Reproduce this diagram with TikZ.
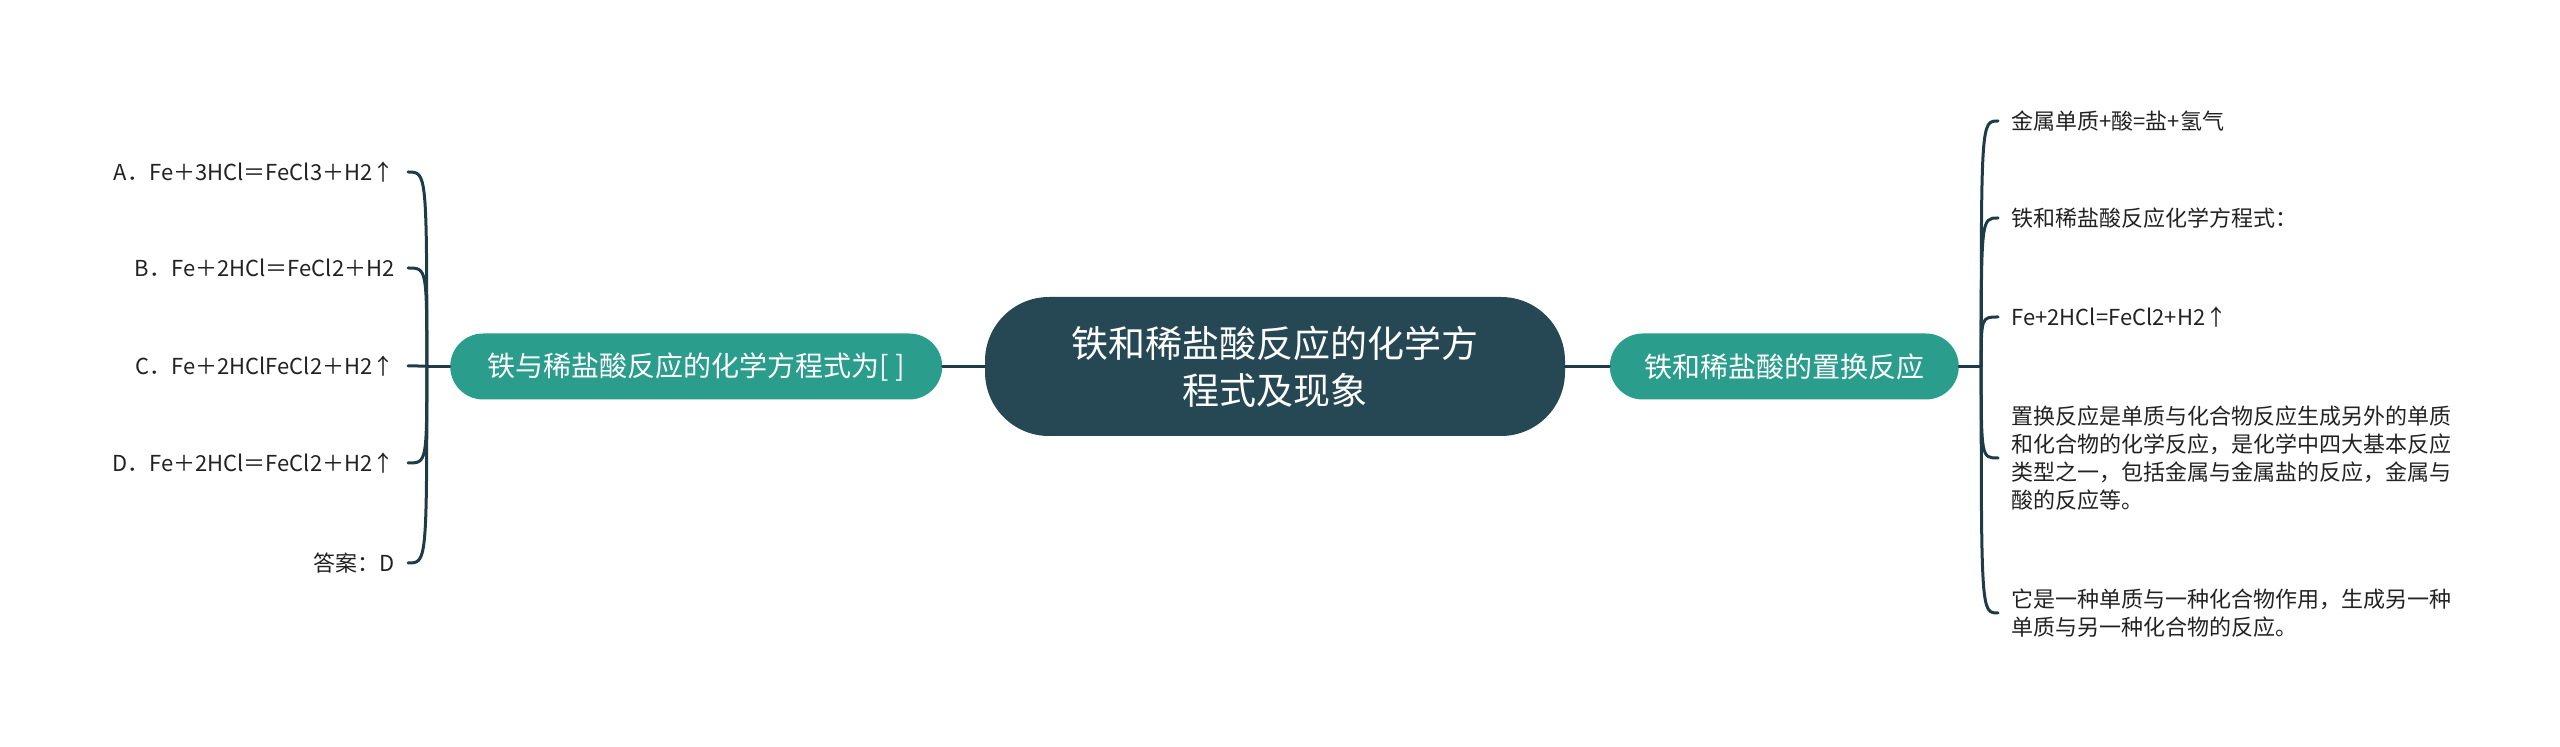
\documentclass[tikz,border=0pt]{standalone}
\usepackage{fontspec}
\setmainfont{Noto Sans CJK SC}
\usetikzlibrary{positioning}
\definecolor{hubfill}{RGB}{38,72,84}
\definecolor{topicfill}{RGB}{42,157,141}
\definecolor{linkcol}{RGB}{30,60,72}
\definecolor{leaftext}{RGB}{34,34,34}

\begin{document}
\begin{tikzpicture}[x=0.5pt,y=-0.5pt,
        hub/.style={fill=hubfill, text=white, rounded corners=32pt,
            minimum width=290pt, minimum height=69.5pt, align=center,
            font=\fontsize{18.5}{23.5}\selectfont},
        topic/.style={fill=topicfill, text=white, rounded corners=16.5pt,
            minimum height=33pt, font=\fontsize{14}{17}\selectfont},
        leaf/.style={text=leaftext, inner ysep=0pt, inner xsep=6.5pt,
            align=left, font=\fontsize{11}{14}\selectfont},
        link/.style={draw=linkcol, line width=1.5pt, line cap=round}]
    \useasboundingbox (0,0) rectangle (2560,747);

    \node[hub] (hub) at (1275,366.5) {铁和稀盐酸反应的化学方\\程式及现象};
    \node[topic, minimum width=246pt, left=21pt of hub] (qtopic) {铁与稀盐酸反应的化学方程式为[ ]};
    \node[topic, minimum width=174.5pt, right=22pt of hub] (rtopic) {铁和稀盐酸的置换反应};
    \coordinate[left=11.5pt of qtopic.west] (qj);
    \coordinate[right=11pt of rtopic.east] (rj);

    \node[leaf, anchor=east] (qa) at (408,172) {A．Fe＋3HCl＝FeCl3＋H2↑};
    \node[leaf, anchor=east] (qb) at (408,268) {B．Fe＋2HCl＝FeCl2＋H2};
    \node[leaf, anchor=east] (qc) at (408,366) {C．Fe＋2HClFeCl2＋H2↑};
    \node[leaf, anchor=east] (qd) at (408,463) {D．Fe＋2HCl＝FeCl2＋H2↑};
    \node[leaf, anchor=east] (qe) at (408,563) {答案：D};

    \node[leaf, anchor=west] (ra) at (1998,121) {金属单质+酸=盐+氢气};
    \node[leaf, anchor=west] (rb) at (1998,218) {铁和稀盐酸反应化学方程式：};
    \node[leaf, anchor=west] (rc) at (1998,317) {Fe+2HCl=FeCl2+H2↑};
    \node[leaf, anchor=west] (rd) at (1998,458) {置换反应是单质与化合物反应生成另外的单质\\和化合物的化学反应，是化学中四大基本反应\\类型之一，包括金属与金属盐的反应，金属与\\酸的反应等。};
    \node[leaf, anchor=west] (re) at (1998,613) {它是一种单质与一种化合物作用，生成另一种\\单质与另一种化合物的反应。};

    \draw[link] (hub) -- (qtopic);
    \draw[link] (hub) -- (rtopic);
    \draw[link] (qtopic.west) -- (qj);
    \draw[link] (rtopic.east) -- (rj);
    \foreach \n in {qa,qb,qc,qd,qe}
        \draw[link] (qj) .. controls (qj |- \n.east) .. (\n.east);
    \foreach \n in {ra,rb,rc,rd,re}
        \draw[link] (rj) .. controls (rj |- \n.west) .. (\n.west);
\end{tikzpicture}
\end{document}
